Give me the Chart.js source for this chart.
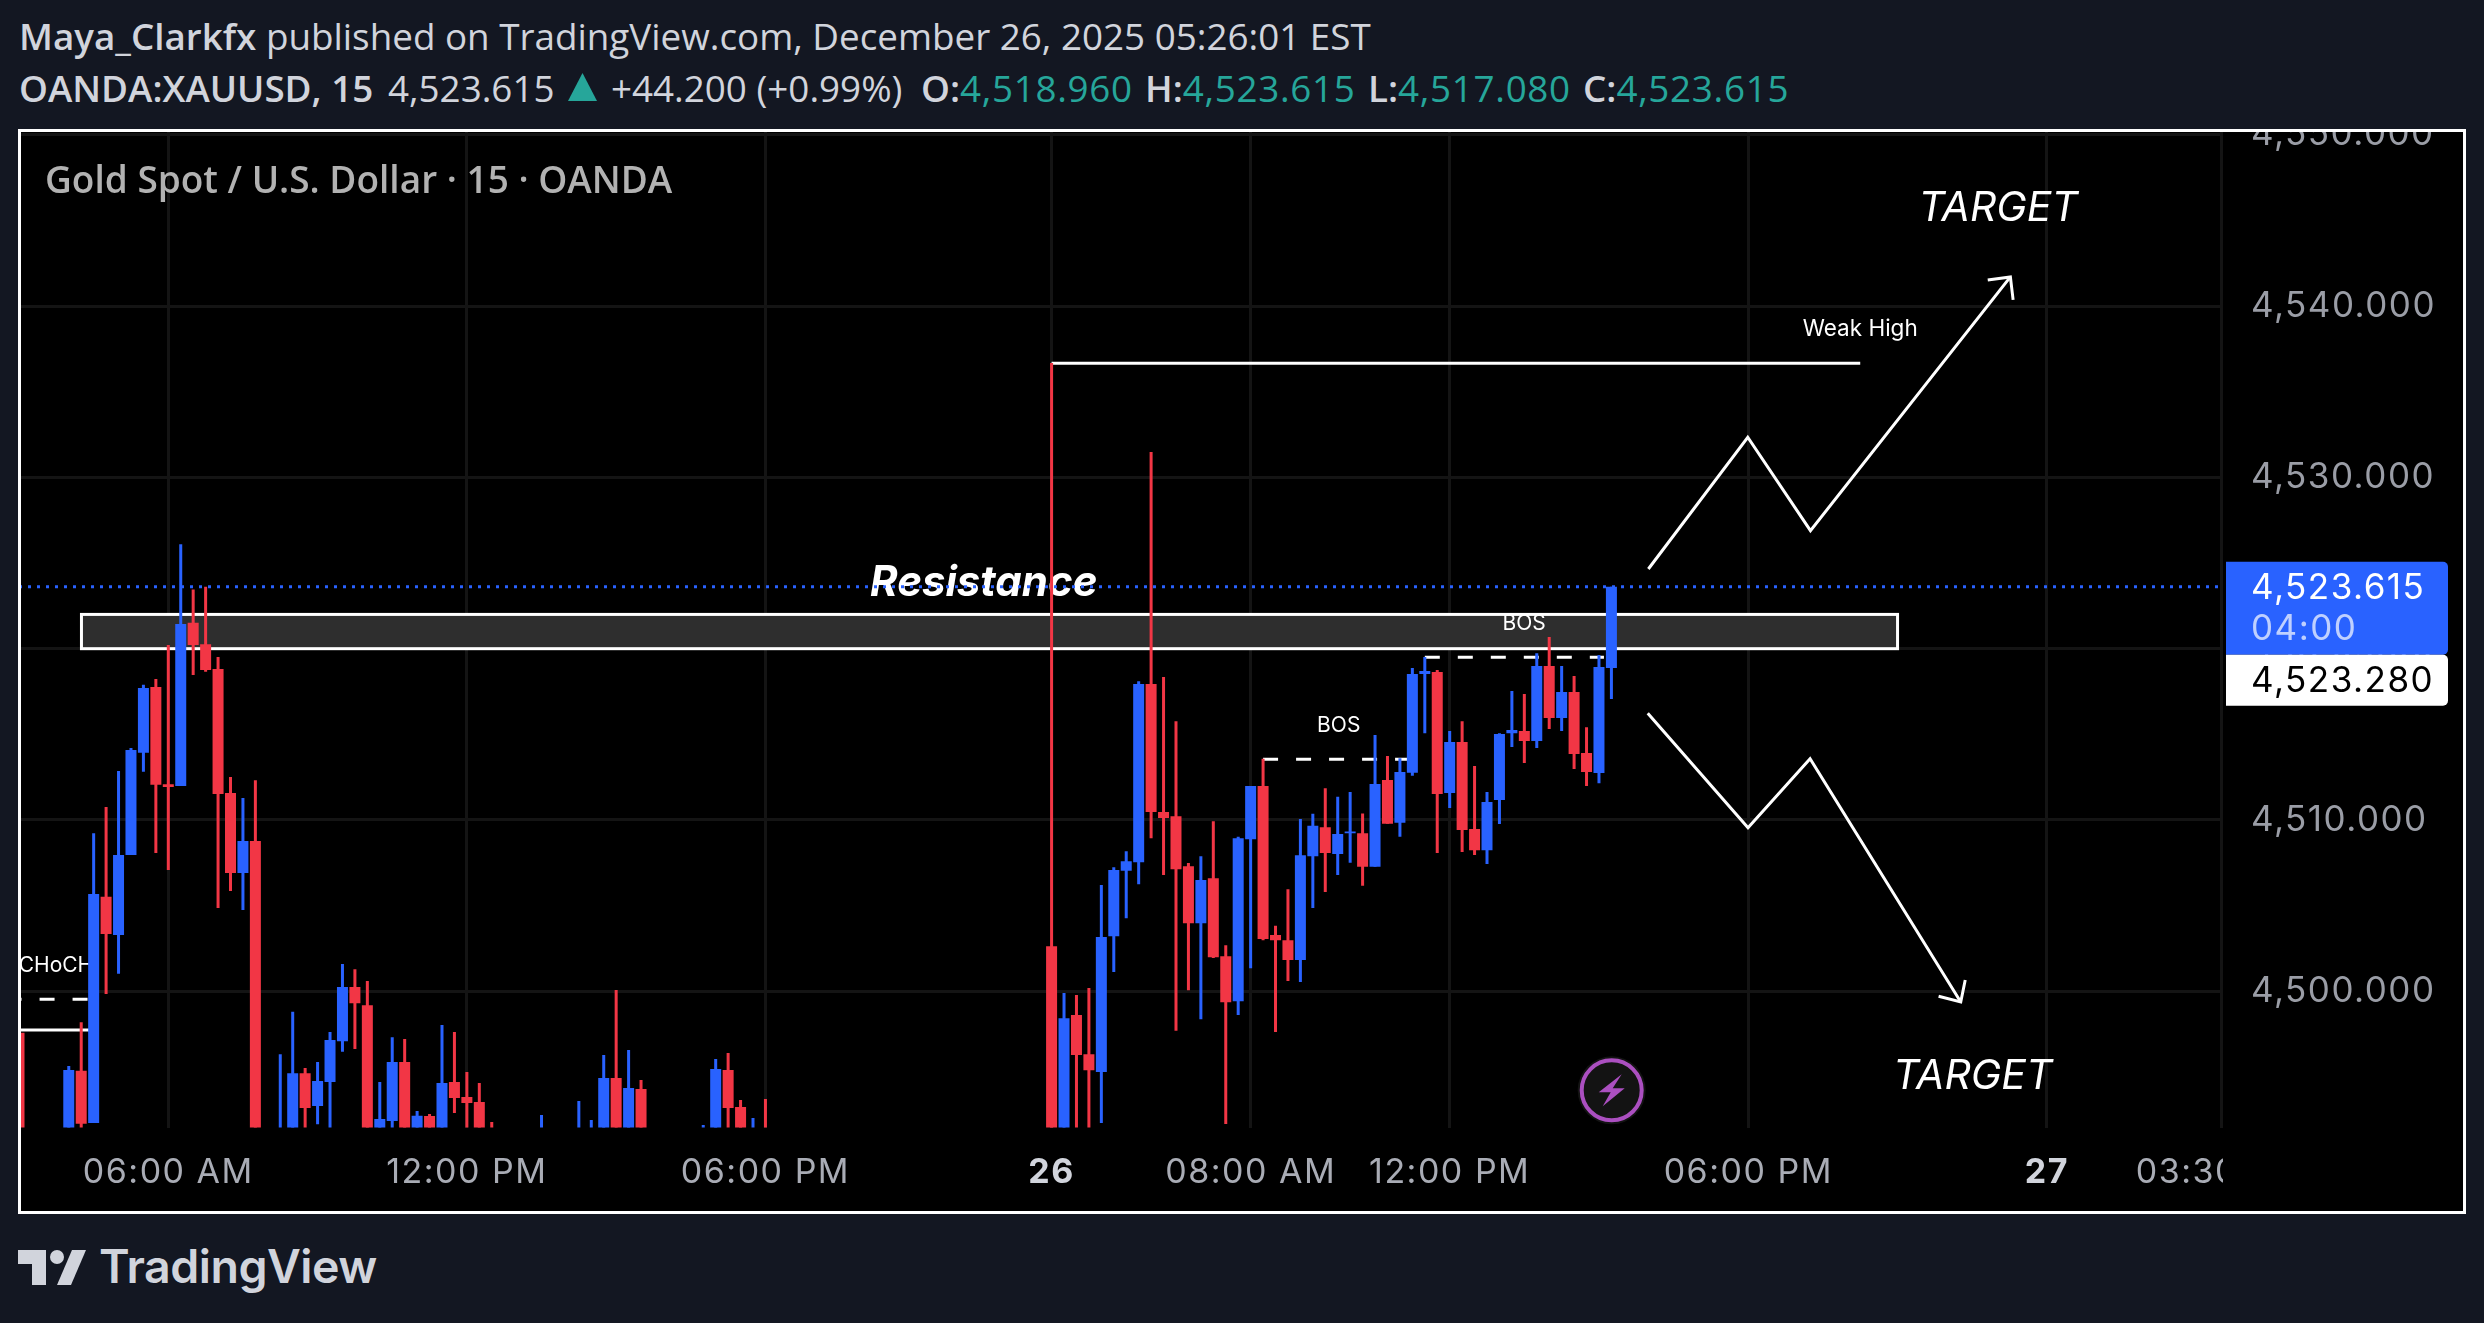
<!DOCTYPE html>
<html>
<head>
<meta charset="utf-8">
<script src="https://cdn.jsdelivr.net/npm/chart.js@4"></script>
<style>
html,body{margin:0;padding:0;background:#131722;width:2484px;height:1323px;overflow:hidden}
.line{position:absolute;left:19px;white-space:pre;font-family:"Open Sans",sans-serif;font-size:36.8px;color:#d1d4dc}
.line b{font-weight:600}
.line i{font-style:normal;color:#26a69a;letter-spacing:.7px}
.line span{position:absolute;top:0}
#frame{position:absolute;left:18px;top:129px;width:2442px;height:1079px;border:3px solid #fff;background:#000;overflow:hidden}
#title{position:absolute;left:24px;top:21px;font-family:"Open Sans",sans-serif;font-weight:600;font-size:37px;color:#b2b2b2;white-space:pre}
#logotext{position:absolute;left:99px;top:1238px;font-family:Inter,sans-serif;font-weight:600;font-size:46.5px;color:#d1d4dc;letter-spacing:-0.5px}
</style>
</head>
<body>
<div class="line" style="top:11px"><b>Maya_Clarkfx</b> published on TradingView.com, December 26, 2025 05:26:01 EST</div>
<div class="line" style="top:63px"><b>OANDA:XAUUSD, 15</b><span style="left:369px">4,523.615</span><span style="left:592px">+44.200 (+0.99%)</span><span style="left:902px"><b>O:</b><i>4,518.960</i></span><span style="left:1126px"><b>H:</b><i>4,523.615</i></span><span style="left:1349px"><b>L:</b><i>4,517.080</i></span><span style="left:1564px"><b>C:</b><i>4,523.615</i></span></div>
<svg style="position:absolute;left:0;top:0" width="640" height="129"><polygon points="568,101 582.5,73 597,101" fill="#26a69a"/></svg>
<div id="frame">
  <canvas id="chart" width="2442" height="1079"></canvas>
  <div id="title">Gold Spot / U.S. Dollar · 15 · OANDA</div>
</div>
<svg style="position:absolute;left:0;top:1215px" width="96" height="108" fill="#d1d4dc">
  <polygon points="18,35 46,35 46,70 32,70 32,49 18,49"/>
  <circle cx="57" cy="42" r="7"/>
  <polygon points="72,35 86,35 71,70 57,70"/>
</svg>
<div id="logotext">TradingView</div>
<script>
const upColor = '#2962ff'
const downColor = '#f23645'

// candle position (15 min bars, 0 = 06:00 AM) and prices
const barIndex = [-12,-8,-7,-6,-5,-4,-3,-2,-1,0,1,2,3,4,5,6,7,9,10,11,12,13,14,15,16,17,18,19,20,21,22,23,24,25,26,30,33,34,35,36,37,38,43,44,45,46,47,48,
  71,72,73,74,75,76,77,78,79,80,81,82,83,84,85,86,87,88,89,90,91,92,93,94,95,96,97,98,99,100,101,102,103,104,105,106,107,108,109,110,111,112,113,114,115,116]
const opens = [4497.58,4491,4495.36,4492.31,4505.52,4503.28,4507.96,4513.92,4517.77,4512.09,4511.98,4521.51,4520.26,4518.81,4511.58,4506.90,4508.77,4490.5,4491,4495.22,4493.31,4494.71,4497.09,4500.25,4499.19,4491,4492.43,4495.87,4491,4492.72,4491,4494.70,4493.83,4493.54,4491,4490.5,4490.5,4490.5,4491,4494.94,4491,4494.30,4490.5,4491,4495.41,4493.25,4490.5,4491,
  4502.63,4491,4498.61,4496.33,4495.29,4503.22,4507.03,4507.54,4517.94,4510.46,4510.22,4507.30,4503.97,4506.60,4502.05,4499.42,4508.88,4511.99,4503.28,4502.98,4501.83,4507.89,4509.58,4508.02,4509.22,4509.22,4507.27,4512.33,4509.84,4512.76,4518.52,4518.64,4511.57,4514.55,4509.47,4508.24,4511.17,4515.07,4515.19,4514.61,4518.99,4515.95,4517.47,4513.91,4512.74,4518.87]
const highs = [4497.58,4495.64,4498.20,4509.23,4510.76,4512.86,4514.20,4517.89,4518.23,4520.22,4526.10,4523.45,4523.61,4519.52,4512.51,4511.28,4512.32,4496.33,4498.80,4495.52,4495.87,4497.62,4501.59,4501.29,4500.60,4494.71,4497.32,4497.21,4493.01,4492.84,4498.03,4497.62,4495.29,4494.65,4492.37,4492.78,4493.60,4492.49,4496.28,4500.08,4496.57,4494.82,4492.19,4496.05,4496.40,4493.65,4492.60,4493.71,
  4536.67,4499.90,4499.79,4500.19,4506.20,4507.24,4508.18,4518.10,4531.48,4518.34,4515.77,4507.49,4507.89,4509.93,4502.69,4509.02,4511.99,4513.57,4503.82,4505.96,4510.06,4510.36,4511.86,4511.35,4511.63,4510.38,4514.96,4513.73,4513.61,4518.87,4519.51,4518.75,4515.19,4515.77,4513.15,4511.63,4515.07,4517.53,4517.35,4519.74,4520.68,4518.99,4518.40,4515.42,4519.63,4523.615]
const lows = [4491,4491,4491,4492.31,4499.84,4501.02,4507.96,4512.81,4508.08,4507.08,4511.98,4518.46,4518.65,4504.87,4505.86,4504.75,4491,4490,4491,4491,4492.24,4491,4496.47,4496.63,4491,4491,4491,4491,4491,4491,4491,4492.90,4491,4491,4490,4490,4490,4490,4491,4491,4491,4491,4490,4491,4491,4491,4490,4490,
  4491,4491,4491,4491,4492.31,4501.13,4504.27,4506.25,4508.93,4506.79,4497.70,4500.06,4498.37,4501.94,4492.26,4498.61,4501.35,4502.98,4497.62,4500.60,4500.54,4504.86,4505.80,4506.79,4507.51,4506.16,4507.27,4509.78,4509.02,4512.58,4515.07,4508.07,4510.70,4508.13,4507.95,4507.43,4509.76,4514.26,4513.33,4514.20,4515.31,4515.19,4512.97,4511.98,4512.15,4517.06]
const closes = [4491,4495.41,4492.27,4505.68,4503.35,4507.96,4514.08,4517.70,4512.05,4511.93,4521.44,4520.22,4518.76,4511.52,4506.90,4508.77,4491,4491,4495.22,4493.19,4494.76,4497.16,4500.25,4499.31,4491,4492.54,4495.87,4491,4492.73,4491,4494.65,4493.77,4493.48,4491,4490.5,4491,4491,4491,4494.94,4491,4494.35,4491,4491,4495.46,4493.19,4491,4491,4490.5,
  4491,4498.42,4496.28,4495.39,4503.17,4507.08,4507.59,4517.94,4510.46,4510.11,4507.13,4503.97,4506.49,4501.99,4499.36,4508.93,4511.99,4503.06,4502.98,4501.83,4507.94,4509.66,4508.08,4509.18,4509.33,4507.27,4512.10,4509.78,4512.80,4518.52,4518.69,4511.52,4514.55,4509.41,4508.24,4511.05,4515.02,4515.25,4514.61,4518.99,4515.95,4517.47,4513.85,4512.80,4518.93,4523.615]

const lastPrice = 4523.615
const lastPriceText = '4,523.615'
const countdownText = '04:00'
const bidText = '4,523.280'
const priceTicks = [4500, 4510, 4520, 4530, 4540, 4550]
const timeTicks = [0, 24, 48, 71, 87, 103, 127, 151, 165]
const timeLabels = ['06:00 AM', '12:00 PM', '06:00 PM', '26', '08:00 AM', '12:00 PM', '06:00 PM', '27', '03:30 AM']

// drawings on the chart, [bar, price]
const weakHigh = [[71, 4536.66], [136, 4536.66]]
const bosLine1 = [[88, 4513.55], [100, 4513.55]]
const bosLine2 = [[101, 4519.5], [115.4, 4519.5]]
const chochDash = [[-13, 4499.54], [-6, 4499.54]]
const chochLine = [[-12, 4497.74], [-6, 4497.74]]
const upPath = [[118.97, 4524.65], [126.96, 4532.34], [132, 4526.89], [148.07, 4541.7]]
const upHead = [[146.25, 4541.52], [148.07, 4541.7], [148.29, 4540.36]]
const downPath = [[118.92, 4516.23], [126.98, 4509.55], [131.97, 4513.58], [144.08, 4499.38]]
const downHead = [[142.3, 4499.71], [144.08, 4499.38], [144.44, 4500.66]]
const resistanceZone = { from: -6.98, to: 139, top: 4522.0, bottom: 4520.0 }
const notes = [
  { text: 'Resistance', x: 65.55, y: 4523.8, font: 'italic 700 42px Inter' },
  { text: 'Weak High', x: 136, y: 4538.66, font: '22.5px Inter' },
  { text: 'BOS', x: 94.08, y: 4515.5, font: '21px Inter' },
  { text: 'BOS', x: 108.98, y: 4521.48, font: '21px Inter' },
  { text: 'CHoCH', x: -9.03, y: 4501.5, font: '21px Inter' },
  { text: 'TARGET', x: 147.1, y: 4545.68, font: 'italic 41px Inter' },
  { text: 'TARGET', x: 145.05, y: 4495.0, font: 'italic 41px Inter' }
]

const toPoints = list => list.map(p => ({ x: p[0], y: p[1] }))
const barColors = barIndex.map((_, i) => (closes[i] >= opens[i] ? upColor : downColor))
const drawing = (pts, extra) => ({
  type: 'line', data: toPoints(pts), borderColor: '#fff', borderWidth: 3,
  pointRadius: 0, order: 3, tension: 0, ...extra
})
const gridColor = '#141414'
const axisSpacing = '1.5px'
const isDayLabel = ctx => (timeLabels[ctx.index] || '').length === 2

const drawingsPlugin = {
  id: 'drawings',
  beforeDraw(chart) {
    chart.ctx.letterSpacing = axisSpacing
  },
  beforeDatasetsDraw(chart) {
    const { ctx, scales: { x, y } } = chart
    ctx.save()
    ctx.letterSpacing = '0px'
    ctx.beginPath()
    ctx.rect(chart.chartArea.left, chart.chartArea.top, chart.chartArea.width, chart.chartArea.height)
    ctx.clip()
    const left = x.getPixelForValue(resistanceZone.from)
    const right = x.getPixelForValue(resistanceZone.to)
    const top = y.getPixelForValue(resistanceZone.top)
    const bottom = y.getPixelForValue(resistanceZone.bottom)
    ctx.fillStyle = '#2e2e2e'
    ctx.strokeStyle = '#fff'
    ctx.lineWidth = 3
    ctx.fillRect(left, top, right - left, bottom - top)
    ctx.strokeRect(left, top, right - left, bottom - top)
    ctx.fillStyle = '#fff'
    ctx.textAlign = 'center'
    ctx.textBaseline = 'middle'
    notes.forEach(n => {
      ctx.font = n.font
      ctx.fillText(n.text, x.getPixelForValue(n.x), y.getPixelForValue(n.y))
    })
    ctx.restore()
  },
  afterDraw(chart) {
    const { ctx, chartArea, scales: { y } } = chart
    // time axis stops at the price scale
    ctx.fillStyle = '#000'
    ctx.fillRect(chartArea.right + 1, chartArea.bottom, 240, 84)

    // price tags
    const py = y.getPixelForValue(lastPrice)
    const tagLeft = 2205
    ctx.fillStyle = upColor
    ctx.beginPath()
    ctx.roundRect(tagLeft, py - 25, 222, 93, [0, 5, 5, 0])
    ctx.fill()
    ctx.fillStyle = '#fff'
    ctx.beginPath()
    ctx.roundRect(tagLeft, py + 68, 222, 51, [0, 5, 5, 0])
    ctx.fill()
    ctx.font = '35px Inter'
    ctx.letterSpacing = axisSpacing
    ctx.textAlign = 'left'
    ctx.textBaseline = 'middle'
    ctx.fillStyle = '#fff'
    ctx.fillText(lastPriceText, 2230, py + 2)
    ctx.fillStyle = 'rgba(255,255,255,.7)'
    ctx.fillText(countdownText, 2230, py + 43)
    ctx.fillStyle = '#000'
    ctx.fillText(bidText, 2230, py + 95)

    // replay badge
    const bx = 1590.7, by = 958.3
    ctx.beginPath()
    ctx.arc(bx, by, 34, 0, Math.PI * 2)
    ctx.fillStyle = '#131313'
    ctx.fill()
    ctx.beginPath()
    ctx.arc(bx, by, 30, 0, Math.PI * 2)
    ctx.strokeStyle = '#ab4fc0'
    ctx.lineWidth = 4
    ctx.stroke()
    ctx.beginPath()
    ctx.moveTo(bx + 10, by - 16)
    ctx.lineTo(bx - 13, by + 2)
    ctx.lineTo(bx - 1, by + 2)
    ctx.lineTo(bx - 9, by + 16)
    ctx.lineTo(bx + 13, by - 2)
    ctx.lineTo(bx + 1, by - 2)
    ctx.closePath()
    ctx.fillStyle = '#ab4fc0'
    ctx.fill()
  }
}

new Chart(document.getElementById('chart'), {
  type: 'bar',
  plugins: [drawingsPlugin],
  data: {
    datasets: [
      {
        label: 'body', order: 0, barThickness: 11, backgroundColor: barColors, grouped: false,
        data: barIndex.map((b, i) => ({ x: b, y: [opens[i], closes[i]] }))
      },
      {
        label: 'wick', order: 1, barThickness: 3, backgroundColor: barColors, grouped: false,
        data: barIndex.map((b, i) => ({ x: b, y: [lows[i], highs[i]] }))
      },
      drawing([[-12, lastPrice], [166, lastPrice]], { borderColor: upColor, borderDash: [3, 6], order: 2 }),
      drawing(weakHigh),
      drawing(bosLine1, { borderDash: [15, 18] }),
      drawing(bosLine2, { borderDash: [15, 18] }),
      drawing(chochDash, { borderDash: [15, 18] }),
      drawing(chochLine),
      drawing(upPath),
      drawing(upHead),
      drawing(downPath),
      drawing(downHead)
    ]
  },
  options: {
    responsive: false,
    animation: false,
    devicePixelRatio: 1,
    layout: { autoPadding: false },
    plugins: { legend: { display: false }, title: { display: false }, tooltip: { enabled: false } },
    elements: { bar: { inflateAmount: 0, borderWidth: 0 } },
    scales: {
      x: {
        type: 'linear',
        offset: false,
        min: -11.84,
        max: 165.08,
        afterBuildTicks: axis => { axis.ticks = timeTicks.map(v => ({ value: v })) },
        afterFit: axis => { axis.height = 83.5; axis.paddingLeft = 0; axis.paddingRight = 0 },
        grid: { color: gridColor, lineWidth: 3, drawTicks: false, offset: false },
        border: { display: false },
        ticks: {
          autoSkip: false,
          maxRotation: 0,
          minRotation: 0,
          padding: 25,
          color: ctx => (isDayLabel(ctx) ? '#d1d4dc' : '#a9acb5'),
          font: ctx => ({ family: 'Inter', size: 34, weight: isDayLabel(ctx) ? 700 : 400 }),
          callback: (v, i) => timeLabels[i]
        }
      },
      y: {
        position: 'right',
        min: 4492.05,
        max: 4550.16,
        afterBuildTicks: axis => { axis.ticks = priceTicks.map(v => ({ value: v })) },
        afterFit: axis => { axis.width = 241; axis.paddingTop = 0; axis.paddingBottom = 0 },
        grid: { color: gridColor, lineWidth: 3, drawTicks: false },
        border: { display: false },
        ticks: {
          padding: 29,
          color: '#9a9da6',
          font: { family: 'Inter', size: 35 },
          callback: v => v.toLocaleString('en-US', { minimumFractionDigits: 3 })
        }
      }
    }
  }
})
</script>
</body>
</html>
